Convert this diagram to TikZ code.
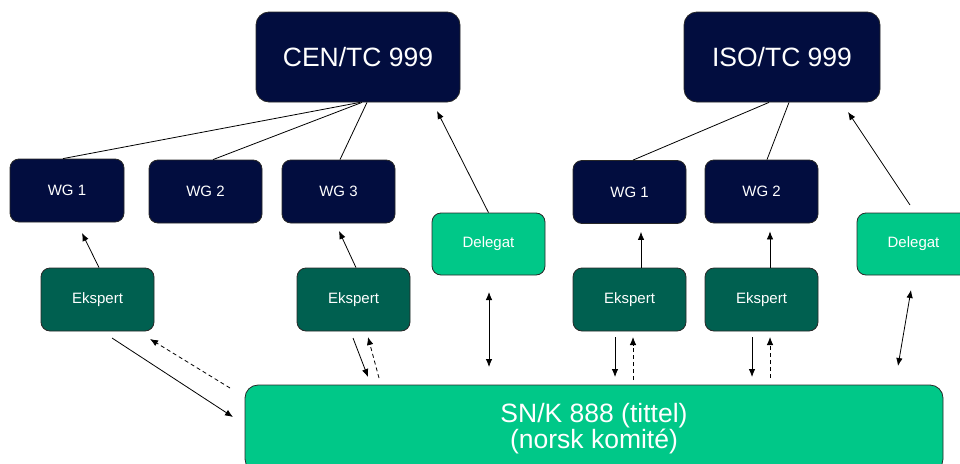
\documentclass[tikz,border=0pt]{standalone}
\usepackage{fontspec}
\setmainfont{Liberation Sans}
\usetikzlibrary{arrows.meta}
\definecolor{navy}{RGB}{2,13,63}
\definecolor{dkgreen}{RGB}{0,96,80}
\definecolor{ltgreen}{RGB}{0,200,136}
\definecolor{edge}{RGB}{40,40,40}
\tikzset{
  base/.style={draw=edge, line width=0.8pt, text=white, align=center, inner sep=0pt},
  tcbox/.style={base, fill=navy, rounded corners=13pt, minimum height=90pt, font=\fontsize{26.5}{30}\selectfont},
  wgbox/.style={base, fill=navy, rounded corners=9pt, minimum width=113pt, minimum height=63pt, font=\fontsize{15}{18}\selectfont},
  ekbox/.style={base, fill=dkgreen, rounded corners=9pt, minimum width=113pt, minimum height=63pt, font=\fontsize{15}{18}\selectfont},
  delbox/.style={base, fill=ltgreen, rounded corners=9pt, minimum width=113pt, minimum height=62pt, font=\fontsize{15}{18}\selectfont},
  snbox/.style={base, fill=ltgreen, rounded corners=13pt, minimum width=698pt, minimum height=87pt, font=\fontsize{26.5}{27}\selectfont},
  conn/.style={line width=0.8pt, black},
  arr/.style={conn, -{Latex[length=8pt,width=6.5pt]}},
  darr/.style={conn, {Latex[length=8pt,width=6.5pt]}-{Latex[length=8pt,width=6.5pt]}},
  dsh/.style={arr, dash pattern=on 4pt off 3pt}
}
\begin{document}
\begin{tikzpicture}[x=1pt,y=-1pt]
\useasboundingbox (0,0) rectangle (960,463);
% boxes
\node[tcbox, minimum width=204pt] (cen) at (358,57) {CEN/TC 999};
\node[tcbox, minimum width=196pt] (iso) at (782,57) {ISO/TC 999};
\node[wgbox, minimum width=114pt] (wg1) at (67,190.5) {WG 1};
\node[wgbox] (wg2) at (205.5,191.5) {WG 2};
\node[wgbox] (wg3) at (338.5,191.5) {WG 3};
\node[wgbox] (wgi1) at (629.5,192) {WG 1};
\node[wgbox] (wgi2) at (761.5,191.5) {WG 2};
\node[ekbox] (eks1) at (97.5,299.5) {Ekspert};
\node[ekbox] (eks2) at (353.5,299.5) {Ekspert};
\node[ekbox] (eksi1) at (629.5,299.5) {Ekspert};
\node[ekbox] (eksi2) at (761.5,299.5) {Ekspert};
\node[delbox] (delc) at (488.5,244) {Delegat};
\node[delbox] (deli) at (913.5,244) {Delegat};
\node[snbox] (snk) at (594,428.5) {SN/K 888 (tittel)\\[-1pt](norsk komité)};
% free ends
\coordinate (cenin) at (437,111);
\coordinate (isoin) at (848,112);
\coordinate (deliout) at (910,205);
\coordinate (wg1in) at (82,233);
\coordinate (wg3in) at (339,231);
% tree lines
\draw[conn] ([xshift=2pt]cen.south) -- ([xshift=-4pt]wg1.north);
\draw[conn] ([xshift=4pt]cen.south) -- ([xshift=7.5pt]wg2.north);
\draw[conn] ([xshift=9pt]cen.south) -- ([xshift=1.5pt]wg3.north);
\draw[conn] ([xshift=-13pt]iso.south) -- ([xshift=3.5pt]wgi1.north);
\draw[conn] ([xshift=7pt]iso.south) -- ([xshift=5.5pt]wgi2.north);
% delegat to TC
\draw[arr] (delc.north) -- (cenin);
\draw[arr] (deliout) -- (isoin);
% ekspert to WG
\draw[arr] ([xshift=1.5pt]eks1.north) -- (wg1in);
\draw[arr] ([xshift=2.5pt]eks2.north) -- (wg3in);
\draw[arr] ([xshift=11.5pt]eksi1.north) -- ([xshift=11.5pt,yshift=-8pt]wgi1.south);
\draw[arr] ([xshift=8.5pt]eksi2.north) -- ([xshift=8.5pt,yshift=-8pt]wgi2.south);
% delegat <-> SN/K
\draw[darr] (489,292) -- (489,367);
\draw[darr] (911,290) -- (898,366);
% ekspert <-> SN/K
\draw[arr] (112,338) -- (233,417);
\draw[dsh] (230,388) -- (150,339);
\draw[arr] (353,338) -- (368,377);
\draw[dsh] (379,378) -- (368,337);
\draw[arr] (615,337) -- (615,377);
\draw[dsh] (633,380) -- (633,337);
\draw[arr] (752,337) -- (752,377);
\draw[dsh] (770,378) -- (770,337);
\end{tikzpicture}
\end{document}
